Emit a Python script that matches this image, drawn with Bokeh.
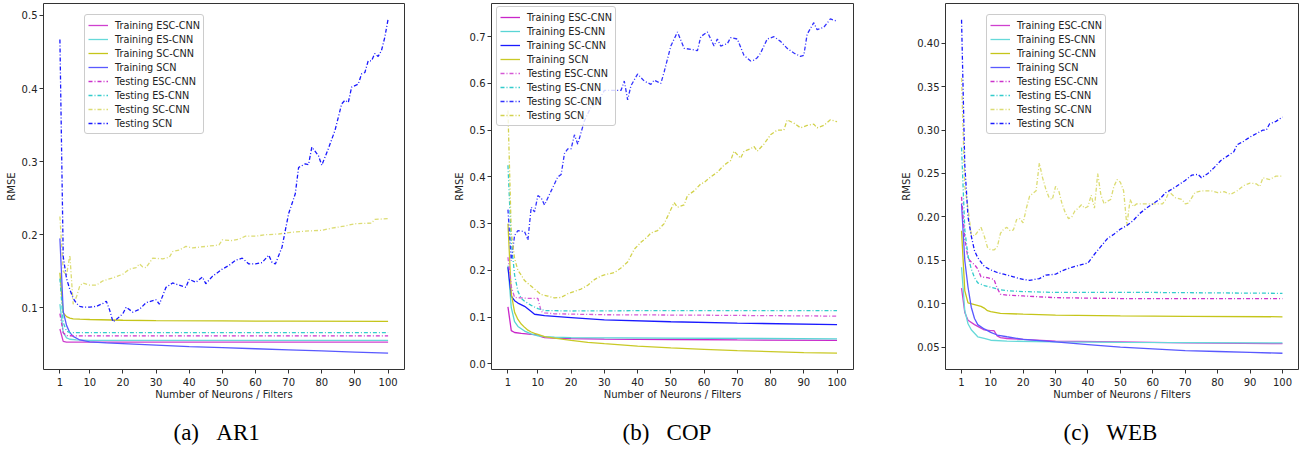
from bokeh.plotting import figure
from bokeh.layouts import row
from bokeh.models import Range1d, FixedTicker, PrintfTickFormatter, Title, Legend, LegendItem
from bokeh.embed import file_html
from bokeh.resources import INLINE

# ---------------- data ----------------
x_ticks = [1, 10, 20, 30, 40, 50, 60, 70, 80, 90, 100]

# Panel (a) AR1
a_tr_esc_x = [1, 2, 3, 5, 10, 20, 40, 60, 80, 100]
a_tr_esc_y = [0.071, 0.054, 0.053, 0.053, 0.053, 0.053, 0.053, 0.053, 0.053, 0.053]
a_tr_es_x = [1, 2, 3, 4, 6, 10, 20, 50, 100]
a_tr_es_y = [0.105, 0.066, 0.059, 0.057, 0.056, 0.0555, 0.0555, 0.0555, 0.0555]
a_tr_sc_x = [1, 2, 3, 4, 5, 7, 10, 20, 30, 50, 70, 100]
a_tr_sc_y = [0.148, 0.093, 0.088, 0.086, 0.085, 0.0845, 0.084, 0.083, 0.0825, 0.082, 0.0818, 0.0815]
a_tr_scn_x = [1, 2, 3, 4, 5, 7, 10, 15, 20, 30, 40, 50, 60, 70, 80, 90, 100]
a_tr_scn_y = [0.195, 0.095, 0.076, 0.066, 0.061, 0.056, 0.0535, 0.052, 0.051, 0.049, 0.047,
              0.0455, 0.044, 0.0425, 0.041, 0.0395, 0.038]
a_te_esc_x = [1, 2, 3, 5, 10, 30, 60, 100]
a_te_esc_y = [0.092, 0.066, 0.062, 0.0615, 0.0615, 0.0615, 0.0615, 0.0615]
a_te_es_x = [1, 2, 3, 4, 10, 30, 60, 100]
a_te_es_y = [0.14, 0.08, 0.068, 0.066, 0.066, 0.066, 0.066, 0.066]
a_te_sc_x = [1, 2, 3, 4, 5, 6, 7, 8, 10, 12, 14, 17, 20, 22, 24, 25, 26, 27, 29, 32, 34, 35, 37,
             39, 41, 45, 49, 50, 53, 55, 57, 60, 63, 67, 70, 75, 80, 83, 87, 90, 95, 96, 100]
a_te_sc_y = [0.225, 0.150, 0.145, 0.172, 0.105, 0.115, 0.130, 0.134, 0.131, 0.131, 0.137, 0.141,
             0.146, 0.153, 0.155, 0.160, 0.156, 0.155, 0.168, 0.167, 0.169, 0.177, 0.179, 0.184,
             0.182, 0.184, 0.186, 0.193, 0.192, 0.194, 0.198, 0.198, 0.200, 0.201, 0.203, 0.205,
             0.206, 0.209, 0.212, 0.215, 0.216, 0.221, 0.222]
a_te_scn_x = [1, 2, 3, 4, 5, 6, 7, 8, 10, 12, 14, 15, 16, 17, 18, 20, 21, 23, 25, 27, 30, 31, 33,
              35, 37, 39, 40, 42, 44, 45, 47, 50, 52, 54, 56, 58, 60, 62, 64, 65, 66, 68, 70, 72,
              73, 75, 76, 77, 79, 80, 82, 84, 86, 87, 88, 89, 91, 92, 93, 94, 95, 96, 97, 98, 99, 100]
a_te_scn_y = [0.467, 0.17, 0.14, 0.125, 0.113, 0.106, 0.102, 0.101, 0.101, 0.102, 0.106, 0.109,
              0.097, 0.081, 0.084, 0.092, 0.101, 0.094, 0.098, 0.107, 0.111, 0.105, 0.128, 0.134,
              0.131, 0.128, 0.139, 0.135, 0.142, 0.133, 0.143, 0.153, 0.158, 0.165, 0.168, 0.160,
              0.160, 0.162, 0.172, 0.162, 0.160, 0.183, 0.229, 0.256, 0.292, 0.297, 0.296, 0.320,
              0.308, 0.295, 0.318, 0.343, 0.379, 0.384, 0.381, 0.402, 0.406, 0.420, 0.422, 0.438,
              0.438, 0.448, 0.444, 0.452, 0.470, 0.495]

# Panel (b) COP
b_tr_esc_x = [1, 2, 3, 5, 8, 10, 11, 12, 15, 20, 30, 50, 70, 100]
b_tr_esc_y = [0.122, 0.071, 0.067, 0.065, 0.063, 0.062, 0.058, 0.056, 0.055, 0.054, 0.053, 0.052, 0.051, 0.050]
b_tr_es_x = [1, 2, 3, 4, 6, 8, 10, 12, 15, 20, 50, 100]
b_tr_es_y = [0.21, 0.12, 0.09, 0.08, 0.07, 0.064, 0.06, 0.058, 0.057, 0.056, 0.055, 0.0535]
b_tr_sc_x = [1, 2, 3, 4, 6, 8, 9, 12, 20, 30, 50, 70, 100]
b_tr_sc_y = [0.207, 0.145, 0.135, 0.13, 0.123, 0.112, 0.106, 0.103, 0.099, 0.094, 0.09, 0.087, 0.084]
b_tr_scn_x = [1, 2, 3, 4, 5, 6, 7, 8, 9, 10, 12, 15, 20, 25, 30, 40, 50, 60, 70, 80, 90, 100]
b_tr_scn_y = [0.30, 0.15, 0.11, 0.095, 0.085, 0.078, 0.072, 0.068, 0.065, 0.063, 0.058, 0.055,
              0.05, 0.046, 0.043, 0.038, 0.034, 0.031, 0.028, 0.026, 0.024, 0.023]
b_te_esc_x = [1, 2, 3, 5, 7, 10, 11, 12, 15, 30, 60, 100]
b_te_esc_y = [0.228, 0.165, 0.142, 0.141, 0.14, 0.14, 0.112, 0.109, 0.107, 0.105, 0.104, 0.102]
b_te_es_x = [1, 2, 3, 4, 5, 6, 8, 10, 12, 20, 50, 100]
b_te_es_y = [0.425, 0.26, 0.19, 0.155, 0.14, 0.134, 0.125, 0.118, 0.114, 0.113, 0.114, 0.114]
b_te_sc_x = [1, 2, 3, 4, 5, 6, 7, 8, 9, 10, 11, 12, 14, 16, 17, 18, 19, 20, 21, 22, 24, 26, 28, 30,
             33, 35, 36, 37, 38, 40, 42, 44, 45, 47, 48, 50, 52, 54, 56, 58, 59, 61, 63, 64, 65, 67,
             68, 70, 72, 74, 75, 76, 77, 79, 81, 83, 85, 87, 89, 90, 91, 93, 94, 96, 98, 100]
b_te_sc_y = [0.33, 0.22, 0.275, 0.285, 0.284, 0.283, 0.265, 0.335, 0.325, 0.36, 0.355, 0.34,
             0.37, 0.40, 0.405, 0.45, 0.46, 0.46, 0.49, 0.47, 0.52, 0.55, 0.56, 0.585,
             0.585, 0.585, 0.605, 0.565, 0.595, 0.62, 0.605, 0.598, 0.607, 0.60, 0.625, 0.68,
             0.71, 0.675, 0.673, 0.67, 0.70, 0.71, 0.68, 0.695, 0.68, 0.685, 0.698, 0.695,
             0.66, 0.648, 0.65, 0.655, 0.665, 0.695, 0.70, 0.69, 0.675, 0.665, 0.658, 0.66,
             0.705, 0.73, 0.715, 0.72, 0.738, 0.733]
b_te_scn_x = [1, 2, 3, 4, 5, 6, 7, 9, 11, 13, 15, 17, 19, 21, 23, 25, 27, 29, 31, 33, 35, 37, 39,
              41, 43, 44, 46, 48, 50, 51, 52, 54, 55, 57, 59, 60, 62, 64, 66, 68, 69, 71, 72, 74,
              75, 76, 78, 80, 82, 84, 85, 87, 89, 91, 93, 94, 96, 98, 100]
b_te_scn_y = [0.542, 0.28, 0.225, 0.2, 0.19, 0.178, 0.172, 0.16, 0.148, 0.145, 0.141, 0.142, 0.15,
              0.155, 0.16, 0.168, 0.18, 0.188, 0.192, 0.195, 0.205, 0.218, 0.245, 0.26, 0.272,
              0.28, 0.285, 0.30, 0.33, 0.345, 0.335, 0.34, 0.36, 0.37, 0.385, 0.388, 0.40,
              0.41, 0.425, 0.435, 0.455, 0.44, 0.455, 0.46, 0.465, 0.455, 0.47, 0.49, 0.50,
              0.50, 0.522, 0.515, 0.505, 0.51, 0.513, 0.505, 0.51, 0.522, 0.518]

# Panel (c) WEB
c_tr_esc_x = [1, 2, 3, 5, 7, 8, 10, 11, 12, 13, 15, 20, 30, 50, 70, 100]
c_tr_esc_y = [0.118, 0.09, 0.081, 0.076, 0.072, 0.07, 0.069, 0.069, 0.063, 0.061, 0.060, 0.059,
              0.057, 0.056, 0.055, 0.054]
c_tr_es_x = [1, 2, 3, 4, 5, 6, 8, 10, 15, 30, 50, 100]
c_tr_es_y = [0.142, 0.092, 0.077, 0.07, 0.066, 0.062, 0.06, 0.058, 0.057, 0.056, 0.0555, 0.055]
c_tr_sc_x = [1, 2, 3, 5, 7, 8, 9, 10, 13, 20, 30, 50, 70, 100]
c_tr_sc_y = [0.184, 0.115, 0.101, 0.099, 0.097, 0.095, 0.092, 0.091, 0.089, 0.088, 0.087, 0.086, 0.0855, 0.085]
c_tr_scn_x = [1, 2, 3, 4, 5, 6, 8, 10, 12, 15, 20, 30, 40, 50, 60, 70, 80, 90, 100]
c_tr_scn_y = [0.215, 0.15, 0.119, 0.096, 0.083, 0.076, 0.071, 0.067, 0.064, 0.062, 0.059, 0.056,
              0.053, 0.05, 0.048, 0.046, 0.045, 0.044, 0.043]
c_te_esc_x = [1, 2, 3, 4, 5, 6, 7, 9, 10, 11, 12, 13, 15, 20, 30, 50, 100]
c_te_esc_y = [0.223, 0.175, 0.152, 0.148, 0.145, 0.14, 0.131, 0.13, 0.129, 0.128, 0.118, 0.111,
              0.11, 0.109, 0.107, 0.106, 0.106]
c_te_es_x = [1, 2, 3, 4, 5, 6, 8, 10, 13, 15, 20, 30, 60, 100]
c_te_es_y = [0.28, 0.185, 0.155, 0.14, 0.13, 0.124, 0.121, 0.119, 0.116, 0.115, 0.114, 0.113, 0.113, 0.112]
c_te_sc_x = [1, 2, 3, 4, 5, 6, 7, 8, 9, 10, 11, 12, 13, 14, 15, 16, 17, 18, 19, 20, 21, 22,
             24, 25, 26, 27, 28, 29, 30, 31, 32, 33, 34, 35, 36, 37, 38, 39, 40, 41, 42, 43,
             44, 45, 46, 47, 48, 49, 50, 51, 52, 53, 54, 55, 57, 59, 61, 63, 64, 65, 67, 69,
             70, 71, 73, 75, 78, 80, 82, 84, 86, 88, 90, 92, 93, 94, 96, 98, 100]
c_te_sc_y = [0.36, 0.235, 0.21, 0.18, 0.178, 0.183, 0.188, 0.178, 0.165, 0.162, 0.162, 0.165,
             0.181, 0.186, 0.188, 0.184, 0.185, 0.197, 0.198, 0.193, 0.21, 0.224,
             0.23, 0.262, 0.245, 0.232, 0.222, 0.22, 0.235, 0.23, 0.215, 0.205,
             0.198, 0.2, 0.207, 0.21, 0.214, 0.21, 0.212, 0.225, 0.21, 0.25,
             0.225, 0.215, 0.218, 0.22, 0.235, 0.243, 0.24, 0.23, 0.19, 0.22,
             0.212, 0.215, 0.215, 0.215, 0.215, 0.215, 0.22, 0.229, 0.222, 0.22,
             0.215, 0.216, 0.228, 0.23, 0.23, 0.228, 0.229, 0.226, 0.23, 0.236,
             0.239, 0.238, 0.235, 0.245, 0.243, 0.247, 0.247]
c_te_scn_x = [1, 2, 3, 4, 5, 6, 8, 10, 12, 14, 17, 20, 22, 25, 27, 30, 32, 35, 38, 40, 42, 44, 46,
              48, 50, 52, 54, 56, 58, 60, 62, 64, 66, 68, 70, 72, 74, 75, 77, 79, 81, 83, 85, 86,
              88, 90, 92, 94, 95, 96, 98, 100]
c_te_scn_y = [0.427, 0.26, 0.20, 0.178, 0.161, 0.153, 0.143, 0.139, 0.136, 0.134, 0.131, 0.128,
              0.127, 0.129, 0.133, 0.134, 0.138, 0.142, 0.145, 0.147, 0.157, 0.166, 0.175, 0.18,
              0.186, 0.19, 0.196, 0.204, 0.21, 0.215, 0.22, 0.228, 0.232, 0.237, 0.242, 0.248,
              0.249, 0.245, 0.25, 0.257, 0.265, 0.27, 0.275, 0.283, 0.287, 0.292, 0.296, 0.30,
              0.30, 0.307, 0.31, 0.315]

labels = ["Training ESC-CNN", "Training ES-CNN", "Training SC-CNN", "Training SCN",
          "Testing ESC-CNN", "Testing ES-CNN", "Testing SC-CNN", "Testing SCN"]

# ---------------- styling ----------------
FONT = "DejaVu Sans"
TXT = "#222222"
SOLID, DASHDOT = "solid", "4 2 1 2"
FH = 366


def make_panel(series, yr, yticks, yfmt, fw, mbl, mbr, leg_x, leg_top, caption, cap_off):
    p = figure(frame_width=fw, frame_height=FH,
               x_range=Range1d(-3.95, 104.95), y_range=Range1d(*yr),
               output_backend="svg", toolbar_location=None,
               min_border_left=mbl, min_border_right=mbr, min_border_top=3, min_border_bottom=87,
               background_fill_color="white", border_fill_color="white")
    p.xgrid.visible = False
    p.ygrid.visible = False
    p.outline_line_color = "#333333"
    p.outline_line_width = 1
    p.outline_line_alpha = 1.0
    p.xaxis.ticker = FixedTicker(ticks=x_ticks)
    p.yaxis.ticker = FixedTicker(ticks=yticks)
    p.yaxis.formatter = PrintfTickFormatter(format=yfmt)
    p.xaxis.axis_label = "Number of Neurons / Filters"
    p.yaxis.axis_label = "RMSE"
    for ax in (p.xaxis[0], p.yaxis[0]):
        ax.axis_line_color = None
        ax.major_tick_out = 4
        ax.major_tick_in = 0
        ax.minor_tick_out = 0
        ax.minor_tick_in = 0
        ax.major_tick_line_color = "#333333"
        ax.major_label_text_font = FONT
        ax.major_label_text_font_size = "10px"
        ax.major_label_text_color = TXT
        ax.axis_label_text_font = FONT
        ax.axis_label_text_font_size = "10px"
        ax.axis_label_text_font_style = "normal"
        ax.axis_label_text_color = TXT
    p.xaxis[0].major_label_standoff = 4
    p.xaxis[0].axis_label_standoff = 0
    p.yaxis[0].major_label_standoff = 2
    p.yaxis[0].axis_label_standoff = 2

    items = []
    for lab, xs, ys, col, dash in series:
        r = p.line(xs, ys, line_color=col, line_alpha=1.0, line_width=1.3, line_dash=dash)
        items.append(LegendItem(label=lab, renderers=[r]))
    pad, gh = 3, 14
    leg_h = 2 * pad + len(items) * gh
    leg = Legend(items=items, location=(leg_x, FH - leg_top - leg_h), orientation="vertical",
                 label_text_font=FONT, label_text_font_size="9.7px", label_text_color=TXT,
                 glyph_width=20, glyph_height=gh, label_height=gh, label_standoff=7,
                 spacing=0, padding=pad, margin=0,
                 border_line_color="#cccccc", border_line_width=1, border_line_alpha=1.0,
                 background_fill_color="white", background_fill_alpha=0.8)
    if "border_radius" in Legend.properties():
        leg.border_radius = 3
    p.add_layout(leg)

    t = Title(text=caption, align="left", offset=cap_off, text_font="Liberation Serif",
              text_font_size="23px", text_font_style="normal", text_color="black")
    if "standoff" in Title.properties():
        t.standoff = 30
    p.add_layout(t, "below")
    return p


NB = "\u00a0" * 3

pa = make_panel([
    (labels[0], a_tr_esc_x, a_tr_esc_y, "#cf40cf", SOLID),
    (labels[1], a_tr_es_x, a_tr_es_y, "#66d9d9", SOLID),
    (labels[2], a_tr_sc_x, a_tr_sc_y, "#c5c51a", SOLID),
    (labels[3], a_tr_scn_x, a_tr_scn_y, "#5959ff", SOLID),
    (labels[4], a_te_esc_x, a_te_esc_y, "#cc33cc", DASHDOT),
    (labels[5], a_te_es_x, a_te_es_y, "#33cccc", DASHDOT),
    (labels[6], a_te_sc_x, a_te_sc_y, "#dcdc73", DASHDOT),
    (labels[7], a_te_scn_x, a_te_scn_y, "#1a1aff", DASHDOT),
], (0.0156, 0.5164), [0.1, 0.2, 0.3, 0.4, 0.5], "%.1f", 361, 43, 45, 41, 13,
    "(a)" + NB + "AR1", 130)

pb = make_panel([
    (labels[0], b_tr_esc_x, b_tr_esc_y, "#c926c9", SOLID),
    (labels[1], b_tr_es_x, b_tr_es_y, "#59d5d5", SOLID),
    (labels[2], b_tr_sc_x, b_tr_sc_y, "#1a1aff", SOLID),
    (labels[3], b_tr_scn_x, b_tr_scn_y, "#c9c926", SOLID),
    (labels[4], b_te_esc_x, b_te_esc_y, "#d559d5", DASHDOT),
    (labels[5], b_te_es_x, b_te_es_y, "#33cccc", DASHDOT),
    (labels[6], b_te_sc_x, b_te_sc_y, "#3333ff", DASHDOT),
    (labels[7], b_te_scn_x, b_te_scn_y, "#d2d24d", DASHDOT),
], (-0.0122, 0.771), [0.0, 0.1, 0.2, 0.3, 0.4, 0.5, 0.6, 0.7], "%.1f", 362, 42, 42, 5, 5,
    "(b)" + NB + "COP", 131)

pc = make_panel([
    (labels[0], c_tr_esc_x, c_tr_esc_y, "#cf40cf", SOLID),
    (labels[1], c_tr_es_x, c_tr_es_y, "#66d9d9", SOLID),
    (labels[2], c_tr_sc_x, c_tr_sc_y, "#c5c51a", SOLID),
    (labels[3], c_tr_scn_x, c_tr_scn_y, "#5959ff", SOLID),
    (labels[4], c_te_esc_x, c_te_esc_y, "#cc33cc", DASHDOT),
    (labels[5], c_te_es_x, c_te_es_y, "#33cccc", DASHDOT),
    (labels[6], c_te_sc_x, c_te_sc_y, "#dcdc73", DASHDOT),
    (labels[7], c_te_scn_x, c_te_scn_y, "#1a1aff", DASHDOT),
], (0.0243, 0.4457), [0.05, 0.10, 0.15, 0.20, 0.25, 0.30, 0.35, 0.40], "%.2f", 353, 50, 8, 41, 13,
    "(c)" + NB + "WEB", 118)

layout = row(pa, pb, pc, spacing=0)
open("out.html", "w").write(file_html(layout, INLINE))
